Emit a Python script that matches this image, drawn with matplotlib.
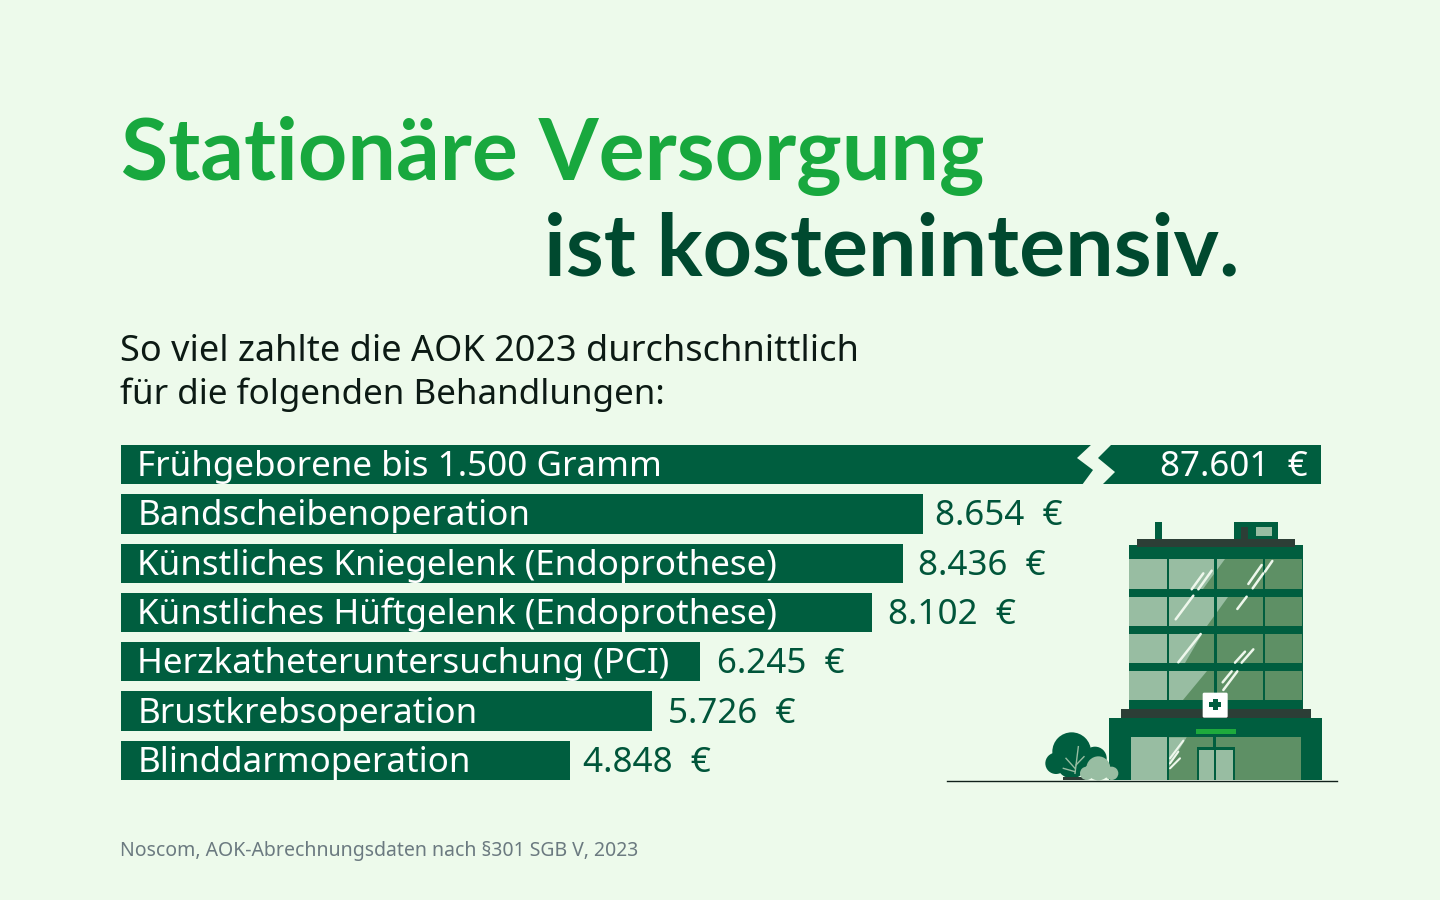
import numpy as np
import matplotlib
matplotlib.use("Agg")
import matplotlib.pyplot as plt
from matplotlib.patches import Rectangle, Polygon, Circle, FancyBboxPatch

plt.rcParams["font.family"] = ["Noto Sans", "DejaVu Sans"]

treatments = [
    "Frühgeborene bis 1.500 Gramm",
    "Bandscheibenoperation",
    "Künstliches Kniegelenk (Endoprothese)",
    "Künstliches Hüftgelenk (Endoprothese)",
    "Herzkatheteruntersuchung (PCI)",
    "Brustkrebsoperation",
    "Blinddarmoperation",
]
costs = [87601, 8654, 8436, 8102, 6245, 5726, 4848]
cost_labels = ["87.601 €", "8.654 €", "8.436 €", "8.102 €", "6.245 €", "5.726 €", "4.848 €"]

BG = "#edfaeb"
BAR = "#005e3f"
LIGHT = "#98bda2"
MID = "#5e9065"
DARK = "#2c3e36"


# axis is linear up to the break, everything after that is squeezed
def fwd(v):
    return np.interp(v, [0, 11000, 87601], [0, 1019.6, 1200])


def inv(p):
    return np.interp(p, [0, 1019.6, 1200], [0, 11000, 87601])


fig = plt.figure(figsize=(14.4, 9), dpi=100, facecolor=BG)

# --- bars ---
ax = fig.add_axes([121 / 1440, 1 - 780 / 900, 1200 / 1440, 335 / 900])
ax.set_xscale("function", functions=(fwd, inv))
ax.set_xlim(0, 87601)
ax.set_ylim(6.4, -0.4)
ax.axis("off")
ax.barh(range(len(costs)), costs, height=0.8, color=BAR)

value_pad = [0, 12, 15, 16, 17, 16, 13]
for i, (name, cost) in enumerate(zip(treatments, costs)):
    # the euro sign sits further off in the reference, hence the double space
    value = cost_labels[i].replace(" ", "  ")
    ax.annotate(name, (0, i), xytext=(11.8, -1.8), textcoords="offset points",
                va="center", ha="left", color="white", fontsize=25.2)
    if i == 0:
        ax.annotate(value, (cost, i), xytext=(-9.5, -1.8), textcoords="offset points",
                    va="center", ha="right", color="white", fontsize=25.2)
    else:
        ax.annotate(value, (cost, i), xytext=(value_pad[i] * 0.72, -1.8), textcoords="offset points",
                    va="center", ha="left", color="#00553a", fontsize=25.2)

# --- overlay in pixel coords: break mark + building ---
ov = fig.add_axes([0, 0, 1, 1], facecolor="none")
ov.set_xlim(0, 1440)
ov.set_ylim(900, 0)
ov.axis("off")

ov.add_patch(Polygon([(1092, 444), (1077, 458), (1093, 470), (1082, 485),
                      (1102, 485), (1115, 472), (1098, 458), (1112, 444)], color=BG, lw=0))


def z(x, y):
    # zoom crop coords -> picture coords
    return 1030 + x / 3, 430 + y / 3


def box(x0, y0, x1, y1, color, zorder=2):
    a, b = z(x0, y0)
    c, d = z(x1, y1)
    p = Rectangle((a, b), c - a, d - b, color=color, lw=0, zorder=zorder)
    ov.add_patch(p)
    return p


def glint(x0, y0, x1, y1, lw=1.8):
    a, b = z(x0, y0)
    c, d = z(x1, y1)
    ov.plot([a, c], [b, d], color="#eef7ec", lw=lw, zorder=5, solid_capstyle="round")


# tree + bush
for cx, cy, r in [(125, 965, 58), (78, 1000, 32), (195, 985, 35), (125, 1000, 45)]:
    a, b = z(cx, cy)
    ov.add_patch(Circle((a, b), r / 3, color=BAR, lw=0, zorder=2))
box(100, 1040, 170, 1050, DARK)
for x0, y0, x1, y1 in [(135, 1030, 145, 950), (135, 1015, 108, 985), (138, 1005, 162, 980), (135, 1025, 100, 1015)]:
    a, b = z(x0, y0)
    c, d = z(x1, y1)
    ov.plot([a, c], [b, d], color=LIGHT, lw=1, zorder=3)
for cx, cy, r in [(205, 1015, 36), (170, 1030, 20), (245, 1030, 20)]:
    a, b = z(cx, cy)
    ov.add_patch(Circle((a, b), r / 3, color=LIGHT, lw=0, zorder=4))

# building shell
box(236, 865, 877, 1050, BAR)
box(272, 838, 842, 865, DARK)
box(296, 346, 818, 838, BAR)
box(320, 326, 795, 352, DARK, zorder=3)
box(375, 277, 395, 326, BAR)
box(611, 277, 745, 326, BAR)
box(632, 291, 655, 326, DARK)
box(678, 291, 725, 318, LIGHT)

# windows, light first and the diagonal shadow clipped into each pane
# each floor has its own diagonal: (top x, bottom x) in crop coords
shadow_edges = [(585, 520), (595, 530), (515, 465), (530, 460)]
rows = [(388, 477), (500, 588), (612, 700), (724, 810)]
for (y0, y1), (sx0, sx1) in zip(rows, shadow_edges):
    shadow = [z(sx0, y0), z(900, y0), z(900, y1), z(sx1, y1)]
    for x0, x1 in [(298, 410), (417, 553), (560, 698), (705, 816)]:
        pane = box(x0, y0, x1, y1, LIGHT, zorder=3)
        sh = Polygon(shadow, color=MID, lw=0, zorder=4)
        ov.add_patch(sh)
        sh.set_clip_path(pane)

for g in [(485, 478, 520, 430), (505, 478, 545, 422), (437, 568, 490, 497), (445, 697, 512, 612),
          (655, 462, 695, 405), (668, 475, 700, 430), (705, 425, 727, 393), (622, 537, 650, 500),
          (615, 698, 645, 665), (635, 698, 670, 658), (578, 757, 605, 724), (580, 780, 622, 724)]:
    glint(*g)

# ground floor
box(302, 922, 812, 1050, MID)
box(302, 922, 410, 1050, LIGHT, zorder=3)
box(410, 922, 417, 1050, BAR, zorder=3)
ov.add_patch(Polygon([z(417, 922), z(470, 922), z(417, 1010)], color=LIGHT, lw=0, zorder=3))
box(550, 922, 558, 952, BAR, zorder=3)
box(498, 898, 618, 912, "#1eaa3c")
box(500, 952, 615, 1050, BAR, zorder=3)
box(507, 960, 553, 1050, LIGHT, zorder=4)
box(559, 960, 609, 1050, LIGHT, zorder=4)
for g in [(420, 985, 460, 932), (420, 1015, 450, 985), (420, 1000, 445, 965)]:
    glint(*g, lw=1.5)

# sign with cross
a, b = z(515, 785)
ov.add_patch(FancyBboxPatch((a + 1, b + 1), 25, 25, boxstyle="round,pad=0,rounding_size=1.5",
                            color="white", lw=0, zorder=6))
box(548, 808, 564, 840, BAR, zorder=7)
box(538, 816, 574, 832, BAR, zorder=7)

# ground line
ov.plot([947, 1337], [780.5, 780.5], color="#10201a", lw=1, zorder=6)

# --- text ---
ov.text(121, 180, "Stationäre Versorgung", color="#18a83e", fontsize=62, fontweight="bold",
        family=["Lato", "DejaVu Sans"], va="baseline")
ov.text(544, 276, "ist kostenintensiv.", color="#00492f", fontsize=62, fontweight="bold",
        family=["Lato", "DejaVu Sans"], va="baseline")
ov.text(120, 361, "So viel zahlte die AOK 2023 durchschnittlich", color="#0c1a14", fontsize=26, va="baseline")
ov.text(120, 404, "für die folgenden Behandlungen:", color="#0c1a14", fontsize=25.2, va="baseline")
ov.text(120, 856, "Noscom, AOK-Abrechnungsdaten nach §301 SGB V, 2023", color="#6b7a80", fontsize=14, va="baseline")

fig.savefig("out.png", dpi=100, facecolor=BG)
